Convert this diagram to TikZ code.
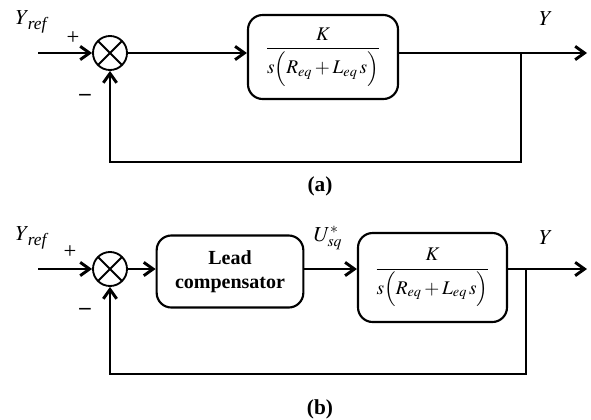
\documentclass[tikz,border=0pt]{standalone}
\usepackage{mathptmx}
\usepackage[no-math]{fontspec}
\setmainfont{Liberation Serif}
\usetikzlibrary{arrows.meta}
\tikzset{
  wire/.style={line width=2.2pt},
  arr/.style={wire,-{Straight Barb[length=7pt,width=10pt,line width=2.2pt]}},
  block/.style={draw,line width=1.6pt,rounded corners=11pt,inner sep=0pt,align=center},
  summer/.style={draw,circle,line width=1.4pt,minimum size=25.5pt,inner sep=0pt,
    path picture={\draw[line width=1.4pt]
      (path picture bounding box.north west) -- (path picture bounding box.south east)
      (path picture bounding box.north east) -- (path picture bounding box.south west);}},
  lbl/.style={font=\fontsize{16}{18}\selectfont},
  sign/.style={font=\fontsize{17}{19}\selectfont},
  frac/.style={font=\fontsize{14.5}{17}\selectfont},
  captext/.style={font=\fontsize{16}{18}\selectfont\bfseries},
}
\newcommand{\plant}{$\displaystyle\frac{K}{s\Bigl(R_{eq}+L_{eq}\,s\Bigr)}$}
\newcommand{\yref}{$Y$\kern-1pt\raisebox{-0.45ex}{\fontsize{13}{15}\selectfont\itshape ref}}
\begin{document}
\begin{tikzpicture}[x=0.75pt,y=-0.75pt]
\useasboundingbox (0,0) rectangle (591,419);

% ---------- loop (a) ----------
\node[summer] (sumA) at (110,53) {};
\node[block,minimum width=112.5pt,minimum height=63pt,frac] (plantA) at (323,57) {\plant};
\coordinate (inA) at (38,53);
\coordinate (outA) at (587,53);
\coordinate (brA) at (521,53);
\coordinate (fbA) at (521,162);
\draw[arr] (inA) -- (sumA.west);
\draw[arr] (sumA.east) -- (sumA.east -| plantA.west);
\draw[arr] (sumA.east -| plantA.east) -- (outA);
\draw[arr] (brA) -- (fbA) -- (fbA -| sumA) -- (sumA.south);
\node[lbl] (yrefA) at (31,22) {\yref};
\node[sign] (plusA) at (73,38) {+};
\node[sign] (minusA) at (85,97) {\bfseries --};
\node[lbl] (yA) at (546,19) {$Y$};
\node[captext] (capA) at (320,186) {(a)};

% ---------- loop (b) ----------
\node[summer] (sumB) at (110,269) {};
\node[block,minimum width=110pt,minimum height=54pt,font=\fontsize{15}{18}\selectfont\bfseries] (lead) at (230,271.5) {Lead\\compensator};
\node[block,minimum width=111.75pt,minimum height=66.75pt,frac] (plantB) at (432.5,277.5) {\plant};
\coordinate (inB) at (38,269);
\coordinate (outB) at (587,269);
\coordinate (brB) at (526,269);
\coordinate (fbB) at (526,374);
\draw[arr] (inB) -- (sumB.west);
\draw[arr] (sumB.east) -- (sumB.east -| lead.west);
\draw[arr] (sumB.east -| lead.east) -- (sumB.east -| plantB.west);
\draw[arr] (sumB.east -| plantB.east) -- (outB);
\draw[arr] (brB) -- (fbB) -- (fbB -| sumB) -- (sumB.south);
\node[lbl] (yrefB) at (31,238) {\yref};
\node[sign] (plusB) at (70,252) {+};
\node[sign] (minusB) at (85,311) {\bfseries --};
\node[lbl] (usq) at (328,238) {$U^{*}_{sq}$};
\node[lbl] (yB) at (546,238) {$Y$};
\node[captext] (capB) at (320,409) {(b)};
\end{tikzpicture}
\end{document}
